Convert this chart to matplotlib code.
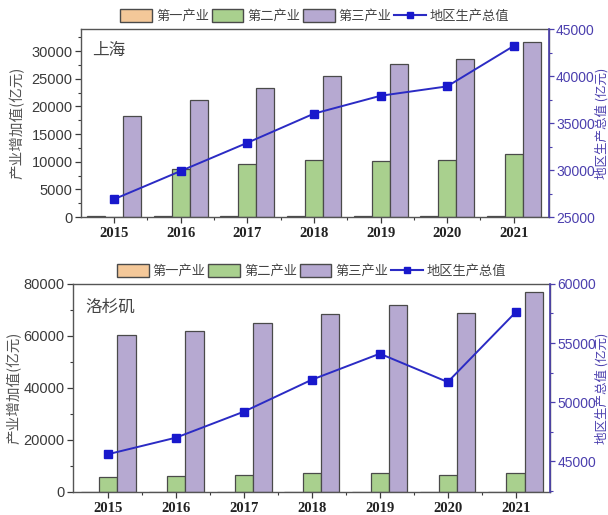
import numpy as np
import matplotlib
matplotlib.use("Agg")
import matplotlib.pyplot as plt
from matplotlib.ticker import MultipleLocator
from matplotlib.patches import Patch
from matplotlib.lines import Line2D

plt.rcParams['font.family'] = ['Noto Sans CJK SC', 'DejaVu Sans']

years = ["2015", "2016", "2017", "2018", "2019", "2020", "2021"]

# 上海 (亿元)
sh_primary = [110, 110, 111, 105, 103, 104, 100]
sh_secondary = [0, 8600, 9500, 10400, 10200, 10300, 11400]
sh_tertiary = [18300, 21200, 23300, 25500, 27700, 28600, 31600]
sh_gdp = [26900, 29900, 32900, 36000, 37900, 38900, 43200]

# 洛杉矶 (亿元)
la_primary = [60, 60, 60, 60, 60, 60, 60]
la_secondary = [5900, 6000, 6600, 7300, 7300, 6500, 7200]
la_tertiary = [60500, 62000, 65000, 68500, 72000, 69000, 77000]
la_gdp = [45600, 47000, 49200, 51900, 54100, 51700, 57600]

c_primary = "#f4c899"
c_secondary = "#a9d08e"
c_tertiary = "#b6a9d1"
c_edge = "#4a4a4a"
c_line = "#2b2bc4"
c_right = "#4b3fae"
c_text = "#3a3a3a"

labels = ["第一产业", "第二产业", "第三产业", "地区生产总值"]

W, H = 608, 515
fig = plt.figure(figsize=(W / 100, H / 100), dpi=100)


def draw_panel(rect, city, primary, secondary, tertiary, gdp,
               ylim_l, major_l, minor_l, ylim_r, major_r, minor_r, xlim,
               lpad):
    ax = fig.add_axes(rect)
    x = np.arange(len(years))
    w = 0.27
    ax.bar(x - w, primary, w, color=c_primary, edgecolor=c_edge, linewidth=0.9)
    ax.bar(x, secondary, w, color=c_secondary, edgecolor=c_edge, linewidth=0.9)
    ax.bar(x + w, tertiary, w, color=c_tertiary, edgecolor=c_edge, linewidth=0.9)

    ax.set_xlim(*xlim)
    ax.set_ylim(*ylim_l)
    ax.yaxis.set_major_locator(MultipleLocator(major_l))
    ax.yaxis.set_minor_locator(MultipleLocator(minor_l))
    ax.set_xticks(x)
    ax.set_xticks(x[:-1] + 0.5, minor=True)
    ax.set_xticklabels(years, fontfamily="Liberation Serif", fontweight="bold",
                       fontsize=10.5, color="#222222")
    for lab in ax.get_yticklabels():
        lab.set_fontfamily("Liberation Sans")
    ax.tick_params(axis="y", which="major", labelsize=10.5, colors=c_text,
                   length=4, width=0.9, pad=2)
    ax.tick_params(axis="y", which="minor", length=2, width=0.8, colors=c_text)
    ax.tick_params(axis="x", which="major", length=4, width=0.9, colors=c_text)
    ax.tick_params(axis="x", which="minor", length=2, width=0.8, colors=c_text)
    ax.tick_params(axis="x", labelcolor="#222222")
    ax.set_ylabel("产业增加值(亿元)", fontsize=10.5, color="#555555",
                  labelpad=lpad)
    for s in ax.spines.values():
        s.set_color("#555555")
        s.set_linewidth(1.0)
    ax.text(0.025, 0.93, city, transform=ax.transAxes, fontsize=12,
            color="#444444", va="top", ha="left")

    ax2 = ax.twinx()
    ax2.plot(x, gdp, color=c_line, linewidth=1.4, marker="s", markersize=5.5,
             markerfacecolor="#1818cc", markeredgecolor="#1818cc")
    ax2.set_ylim(*ylim_r)
    ax2.yaxis.set_major_locator(MultipleLocator(major_r))
    ax2.yaxis.set_minor_locator(MultipleLocator(minor_r))
    for lab in ax2.get_yticklabels():
        lab.set_fontfamily("Liberation Sans")
    ax2.tick_params(axis="y", which="major", labelsize=10, colors=c_right,
                    length=3.5, width=0.9, pad=1.5)
    ax2.tick_params(axis="y", which="minor", length=2, width=0.8, colors=c_right)
    ax2.spines["right"].set_color(c_right)
    ax2.spines["right"].set_linewidth(1.2)
    for k in ("left", "top", "bottom"):
        ax2.spines[k].set_visible(False)
    ax2.set_ylabel("地区生产总值 (亿元)", fontsize=9, color=c_right)
    # keep the right label inside the figure edge
    label_x = (595.5 / W - rect[0]) / rect[2]
    ax2.yaxis.set_label_coords(label_x, 0.5)

    handles = [Patch(facecolor=c_primary, edgecolor=c_edge),
               Patch(facecolor=c_secondary, edgecolor=c_edge),
               Patch(facecolor=c_tertiary, edgecolor=c_edge),
               Line2D([], [], color=c_line, marker="s", markersize=5,
                      markerfacecolor="#1818cc", markeredgecolor="#1818cc")]
    ax.legend(handles, labels, loc="lower center", bbox_to_anchor=(0.5, 1.0),
              ncol=4, frameon=False, fontsize=9.5, handlelength=2.4,
              handleheight=1.1, handletextpad=0.3, columnspacing=0.2,
              borderaxespad=0.05, labelcolor="#444444")
    return ax, ax2


draw_panel([0.133, 0.5786, 0.770, 0.365], "上海",
           sh_primary, sh_secondary, sh_tertiary, sh_gdp,
           (0, 34000), 5000, 2500, (25000, 45000), 5000, 2500, (-0.5, 6.53), 5)

draw_panel([0.120, 0.0447, 0.785, 0.404], "洛杉矶",
           la_primary, la_secondary, la_tertiary, la_gdp,
           (0, 80000), 20000, 10000, (42400, 60000), 5000, 2500, (-0.52, 6.51), 1)

fig.savefig("out.png", dpi=100)
